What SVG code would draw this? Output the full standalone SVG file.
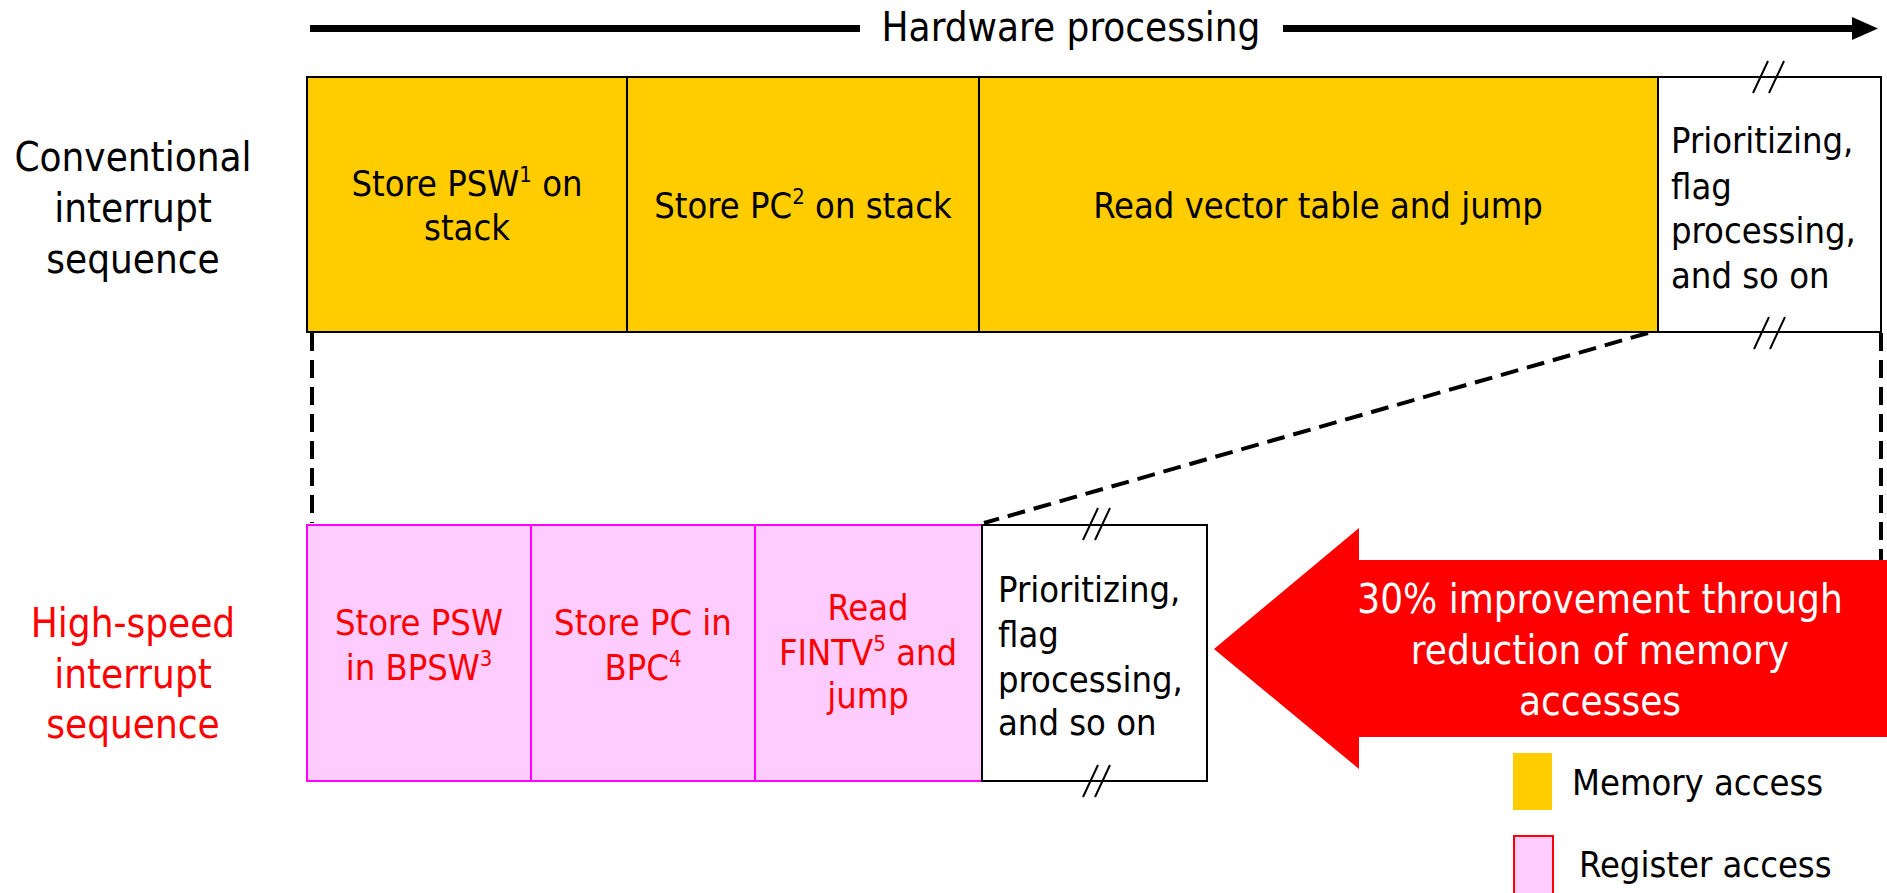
<svg xmlns="http://www.w3.org/2000/svg" width="1887" height="893" viewBox="0 0 1887 893">
  <style>
    text { font-family: "DejaVu Sans Condensed", "DejaVu Sans", sans-serif; font-stretch: condensed; font-size: 36px; fill: #000; }
    .mid { text-anchor: middle; }
    .lbl { font-size: 40px; }
    .red { fill: #FF0000; }
    .white { fill: #FFFFFF; }
    .sup { font-size: 22px; }
    .mem { fill: #FFCC00; stroke: #000; stroke-width: 2; }
    .reg { fill: #FFCCFF; stroke: #FF00FF; stroke-width: 2; }
    .plain { fill: #FFFFFF; stroke: #000; stroke-width: 2; }
    .dash { fill: none; stroke: #000; stroke-width: 4; stroke-dasharray: 18 9; }
    .brk { fill: none; stroke: #000; stroke-width: 2; }
  </style>

  <!-- Time axis -->
  <g id="axis">
    <rect x="310" y="25" width="550" height="7" fill="#000"/>
    <rect x="1283" y="25" width="572" height="7" fill="#000"/>
    <polygon points="1852,17 1878,28.5 1852,40" fill="#000"/>
    <text class="lbl mid" x="1071" y="41">Hardware processing</text>
  </g>

  <!-- Row labels -->
  <g id="label-conventional">
    <text class="lbl mid" x="133" y="171">Conventional</text>
    <text class="lbl mid" x="133" y="222">interrupt</text>
    <text class="lbl mid" x="133" y="273">sequence</text>
  </g>
  <g id="label-highspeed">
    <text class="lbl mid red" x="133" y="637">High-speed</text>
    <text class="lbl mid red" x="133" y="688">interrupt</text>
    <text class="lbl mid red" x="133" y="738">sequence</text>
  </g>

  <!-- Connectors -->
  <g id="connectors">
    <line class="dash" x1="312" y1="333" x2="312" y2="523"/>
    <line class="dash" x1="1881" y1="333" x2="1881" y2="560"/>
    <line class="dash" x1="1648" y1="333" x2="984" y2="523"/>
  </g>

  <!-- Conventional sequence -->
  <g id="conv-psw">
    <rect class="mem" x="307" y="77" width="320" height="255"/>
    <text class="mid" x="467" y="196">Store PSW<tspan class="sup" dy="-14">1</tspan><tspan dy="14"> on</tspan></text>
    <text class="mid" x="467" y="240">stack</text>
  </g>
  <g id="conv-pc">
    <rect class="mem" x="627" y="77" width="352" height="255"/>
    <text class="mid" x="803" y="218">Store PC<tspan class="sup" dy="-14">2</tspan><tspan dy="14"> on stack</tspan></text>
  </g>
  <g id="conv-vector">
    <rect class="mem" x="979" y="77" width="679" height="255"/>
    <text class="mid" x="1318" y="218">Read vector table and jump</text>
  </g>
  <g id="conv-rest">
    <rect class="plain" x="1658" y="77" width="223" height="255"/>
    <text x="1671" y="153">Prioritizing,</text>
    <text x="1671" y="199">flag</text>
    <text x="1671" y="243">processing,</text>
    <text x="1671" y="288">and so on</text>
    <path class="brk" d="M1753,93 L1768,61 M1769,93 L1784,61 M1754,349 L1769,317 M1770,349 L1785,317"/>
  </g>

  <!-- High-speed sequence -->
  <g id="fast-psw">
    <rect class="reg" x="307" y="525" width="224" height="256"/>
    <text class="mid red" x="419" y="635">Store PSW</text>
    <text class="mid red" x="419" y="680">in BPSW<tspan class="sup" dy="-14">3</tspan></text>
  </g>
  <g id="fast-pc">
    <rect class="reg" x="531" y="525" width="224" height="256"/>
    <text class="mid red" x="643" y="635">Store PC in</text>
    <text class="mid red" x="643" y="680">BPC<tspan class="sup" dy="-14">4</tspan></text>
  </g>
  <g id="fast-fintv">
    <rect class="reg" x="755" y="525" width="227" height="256"/>
    <text class="mid red" x="868" y="620">Read</text>
    <text class="mid red" x="868" y="665">FINTV<tspan class="sup" dy="-14">5</tspan><tspan dy="14"> and</tspan></text>
    <text class="mid red" x="868" y="708">jump</text>
  </g>
  <g id="fast-rest">
    <rect class="plain" x="982" y="525" width="225" height="256"/>
    <text x="998" y="602">Prioritizing,</text>
    <text x="998" y="647">flag</text>
    <text x="998" y="692">processing,</text>
    <text x="998" y="735">and so on</text>
    <path class="brk" d="M1083,540 L1098,508 M1095,540 L1110,508 M1083,797 L1098,765 M1095,797 L1110,765"/>
  </g>

  <!-- Improvement callout -->
  <g id="improvement">
    <polygon points="1214,649 1359,528 1359,560 1887,560 1887,737 1359,737 1359,769" fill="#FF0000"/>
    <text class="lbl mid white" x="1600" y="613">30% improvement through</text>
    <text class="lbl mid white" x="1600" y="664">reduction of memory</text>
    <text class="lbl mid white" x="1600" y="715">accesses</text>
  </g>

  <!-- Legend -->
  <g id="legend-memory">
    <rect x="1513" y="753" width="39" height="57" fill="#FFCC00"/>
    <text x="1572" y="795">Memory access</text>
  </g>
  <g id="legend-register">
    <rect x="1514" y="836" width="39" height="60" fill="#FFCCFF" stroke="#FF0000" stroke-width="2"/>
    <text x="1579" y="877">Register access</text>
  </g>
</svg>
